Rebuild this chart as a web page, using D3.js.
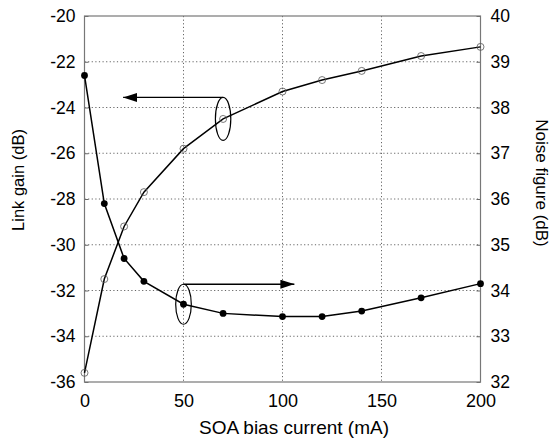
<!DOCTYPE html>
<html>
<head>
<meta charset="utf-8">
<script src="https://cdn.jsdelivr.net/npm/d3@7/dist/d3.min.js"></script>
<style>
  body { margin: 0; background: #fff; }
  text { font-family: "Liberation Sans", Arial, sans-serif; fill: #000; }
</style>
</head>
<body>
<div id="canvas"></div>
<script>
// SOA bias current (mA)
const current = [0, 10, 20, 30, 50, 70, 100, 120, 140, 170, 200];
// Link gain (dB), open circles, left axis
const linkGain = [-35.6, -31.5, -29.2, -27.7, -25.8, -24.5, -23.3, -22.8, -22.4, -21.75, -21.35];
// Noise figure (dB), filled circles, right axis
const noiseFigure = [38.7, 35.9, 34.7, 34.2, 33.7, 33.5, 33.43, 33.43, 33.55, 33.84, 34.15];

const xTicks = [0, 50, 100, 150, 200];
const gainTicks = [-36, -34, -32, -30, -28, -26, -24, -22, -20];
const nfTicks = [32, 33, 34, 35, 36, 37, 38, 39, 40];

const w = 552;
const h = 447;
const plotL = 84.5, plotR = 480.5, plotT = 16, plotB = 382;

const xScale = d3.scaleLinear().domain([0, 200]).range([plotL, plotR]);
const yGain = d3.scaleLinear().domain([-36, -20]).range([plotB, plotT]);
const yNF = d3.scaleLinear().domain([32, 40]).range([plotB, plotT]);

const svg = d3.select('#canvas')
  .append('svg')
  .attr('width', w)
  .attr('height', h);

svg.append('defs').append('marker')
  .attr('id', 'head')
  .attr('viewBox', '0 0 14 9')
  .attr('refX', 14)
  .attr('refY', 4.5)
  .attr('markerWidth', 14)
  .attr('markerHeight', 9)
  .attr('markerUnits', 'userSpaceOnUse')
  .attr('orient', 'auto')
  .append('path')
  .attr('d', 'M0,0L14,4.5L0,9Z')
  .attr('fill', '#000');

// dotted grid
const grid = svg.append('g').attr('stroke', '#555').attr('stroke-width', 0.9).attr('stroke-dasharray', '1.2,2.4');
grid.selectAll('.gx')
  .data(xTicks.slice(1, -1))
  .enter()
  .append('line')
  .attr('x1', (d) => xScale(d))
  .attr('x2', (d) => xScale(d))
  .attr('y1', plotT)
  .attr('y2', plotB);
grid.selectAll('.gy')
  .data(gainTicks.slice(1, -1))
  .enter()
  .append('line')
  .attr('x1', plotL)
  .attr('x2', plotR)
  .attr('y1', (d) => yGain(d))
  .attr('y2', (d) => yGain(d));

// axes (plain hyphen for negatives, as in the original)
const plain = (d) => String(d);
const xAxis = d3.axisBottom(xScale).tickValues(xTicks).tickFormat(plain).tickSize(0).tickPadding(12);
const yAxisL = d3.axisLeft(yGain).tickValues(gainTicks).tickFormat(plain).tickSize(-4).tickPadding(9);
const yAxisR = d3.axisRight(yNF).tickValues(nfTicks).tickFormat(plain).tickSize(-4).tickPadding(10);

function styleAxis(g, size) {
  g.select('.domain').remove();
  g.selectAll('line').attr('stroke', '#666');
  g.selectAll('text').style('font-size', size + 'px').attr('fill', '#000');
}

svg.append('g')
  .attr('id', 'x-axis')
  .attr('transform', 'translate(0, ' + plotB + ')')
  .call(xAxis)
  .call((g) => styleAxis(g, 18));

svg.append('g')
  .attr('id', 'y-axis')
  .attr('transform', 'translate(' + plotL + ', 0)')
  .call(yAxisL)
  .call((g) => styleAxis(g, 17.5));

svg.append('g')
  .attr('id', 'y-axis-right')
  .attr('transform', 'translate(' + plotR + ', 0)')
  .call(yAxisR)
  .call((g) => styleAxis(g, 17.5));

// frame
svg.append('rect')
  .attr('x', plotL)
  .attr('y', plotT)
  .attr('width', plotR - plotL)
  .attr('height', plotB - plotT)
  .attr('fill', 'none')
  .attr('stroke', '#777')
  .attr('stroke-width', 1.2);

// curves
const gainLine = d3.line()
  .x((d, i) => xScale(current[i]))
  .y((d) => yGain(d));
const nfLine = d3.line()
  .x((d, i) => xScale(current[i]))
  .y((d) => yNF(d));

svg.append('path')
  .datum(linkGain)
  .attr('d', gainLine)
  .attr('fill', 'none')
  .attr('stroke', '#000')
  .attr('stroke-width', 1.5);

svg.append('path')
  .datum(noiseFigure)
  .attr('d', nfLine)
  .attr('fill', 'none')
  .attr('stroke', '#000')
  .attr('stroke-width', 1.5);

svg.selectAll('.open')
  .data(linkGain)
  .enter()
  .append('circle')
  .attr('cx', (d, i) => xScale(current[i]))
  .attr('cy', (d) => yGain(d))
  .attr('r', 3.5)
  .attr('fill', 'none')
  .attr('stroke', '#555')
  .attr('stroke-width', 0.8);

svg.selectAll('.filled')
  .data(noiseFigure)
  .enter()
  .append('circle')
  .attr('cx', (d, i) => xScale(current[i]))
  .attr('cy', (d) => yNF(d))
  .attr('r', 3.4)
  .attr('fill', '#000');

// callouts: ellipse round one point, arrow toward its axis
svg.append('ellipse')
  .attr('cx', xScale(70))
  .attr('cy', yGain(-24.5))
  .attr('rx', 7.7)
  .attr('ry', 21.5)
  .attr('fill', 'none')
  .attr('stroke', '#000')
  .attr('stroke-width', 1.2);
svg.append('line')
  .attr('x1', xScale(70))
  .attr('x2', xScale(19.5))
  .attr('y1', yGain(-24.5) - 21.5)
  .attr('y2', yGain(-24.5) - 21.5)
  .attr('stroke', '#000')
  .attr('stroke-width', 1.3)
  .attr('marker-end', 'url(#head)');

svg.append('ellipse')
  .attr('cx', xScale(50))
  .attr('cy', yNF(33.7))
  .attr('rx', 7.8)
  .attr('ry', 20)
  .attr('fill', 'none')
  .attr('stroke', '#000')
  .attr('stroke-width', 1.2);
svg.append('line')
  .attr('x1', xScale(50))
  .attr('x2', xScale(106))
  .attr('y1', yNF(33.7) - 20)
  .attr('y2', yNF(33.7) - 20)
  .attr('stroke', '#000')
  .attr('stroke-width', 1.3)
  .attr('marker-end', 'url(#head)');

// titles
svg.append('text')
  .attr('x', 294)
  .attr('y', 434)
  .style('text-anchor', 'middle')
  .style('font-size', '19px')
  .text('SOA bias current (mA)');

svg.append('text')
  .attr('transform', 'translate(24, 180) rotate(-90)')
  .style('text-anchor', 'middle')
  .style('font-size', '16.5px')
  .text('Link gain (dB)');

svg.append('text')
  .attr('transform', 'translate(536, 183) rotate(90)')
  .style('text-anchor', 'middle')
  .style('font-size', '17px')
  .text('Noise figure (dB)');
</script>
</body>
</html>
